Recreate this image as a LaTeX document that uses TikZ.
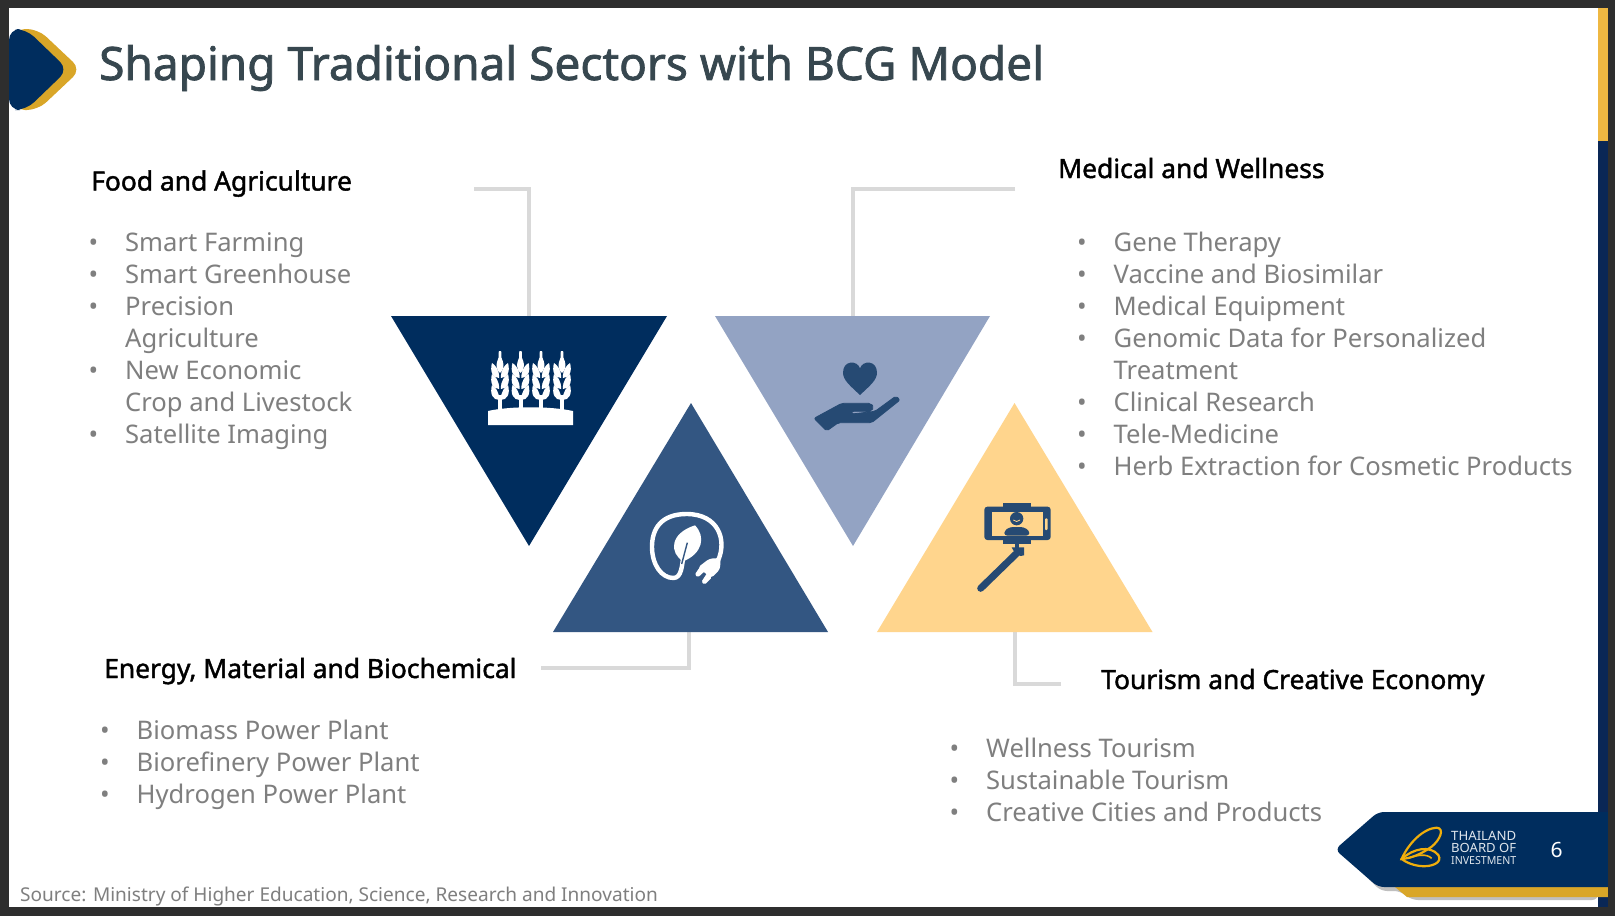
\documentclass[tikz,border=0pt]{standalone}
\usepackage{fontspec}
\setmainfont{Noto Sans}[AutoFakeBold=1.6]
\definecolor{frame}{HTML}{2E2E2E}
\definecolor{navy}{HTML}{002D5E}
\definecolor{barnavy}{HTML}{0A2756}
\definecolor{bargold}{HTML}{EFB842}
\definecolor{gold}{HTML}{D9A628}
\definecolor{triB}{HTML}{93A3C3}
\definecolor{triC}{HTML}{335682}
\definecolor{triD}{HTML}{FFD58D}
\definecolor{iconblue}{HTML}{264A73}
\definecolor{titlec}{HTML}{37474F}
\definecolor{bodyc}{HTML}{7F7F7F}
\definecolor{linkc}{HTML}{D9D9D9}
\definecolor{logogold}{HTML}{F0AE0B}
\tikzset{
  x=1pt,y=-1pt,
  head/.style={anchor=base west,inner sep=0,font=\fontsize{26.4}{30}\selectfont\bfseries,text=black},
  item/.style={anchor=base west,inner sep=0,font=\fontsize{25.6}{32}\selectfont,text=bodyc},
  link/.style={draw=linkc,line width=4pt},
  boiline/.style={inner sep=0,anchor=west,text=white!88!navy},
}
\newcommand{\bul}{\makebox[36.5pt][l]{•}}
\begin{document}
\begin{tikzpicture}
\useasboundingbox (0,0) rectangle (1615,916);
\fill[frame] (0,0) rectangle (1615,916);
\fill[white] (9,8) rectangle (1598,907);
\fill[bargold] (1598,8) rectangle (1608,141);
\fill[barnavy] (1598,141) rectangle (1608,907);
% title badge
\fill[gold,rounded corners=11pt] (14,29) -- (38,29) -- (81,69.5) -- (38,110) -- (14,110) -- cycle;
\fill[navy,rounded corners=11pt] (9,29) -- (26,29) -- (68,69.5) -- (26,110) -- (9,110) -- cycle;
\node[anchor=base west,inner sep=0,text=titlec,font=\fontsize{46}{50}\selectfont\bfseries] (title) at (99,80) {Shaping Traditional Sectors with BCG Model};
% anchors
\coordinate (a1) at (474,188.5); \coordinate (a1k) at (529,188.5); \coordinate (a1e) at (529,316);
\coordinate (a2) at (1015,188.5); \coordinate (a2k) at (853,188.5); \coordinate (a2e) at (853,316);
\coordinate (a3) at (541,667.5); \coordinate (a3k) at (689,667.5); \coordinate (a3e) at (689,631);
\coordinate (a4) at (1061,683.5); \coordinate (a4k) at (1014.5,683.5); \coordinate (a4e) at (1014.5,631);
\draw[link] (a1) -- (a1k) -- (a1e);
\draw[link] (a2) -- (a2k) -- (a2e);
\draw[link] (a3) -- (a3k) -- (a3e);
\draw[link] (a4) -- (a4k) -- (a4e);
% triangles
\fill[navy] (391,316) -- (667,316) -- (529,546) -- cycle;
\fill[triB] (715,316) -- (990,316) -- (853,546) -- cycle;
\fill[triC] (553,632) -- (828,632) -- (691,403) -- cycle;
\fill[triD] (877,632) -- (1152.5,632) -- (1014.5,403) -- cycle;
% wheat icon
\fill[white] (488,425) -- (488,411) .. controls (510,406) and (550,406) .. (573,411) -- (573,425) -- cycle;
\foreach \sx in {500,520.5,541,562}{
  \begin{scope}[shift={(\sx,0)}]
    \fill[white] (-1.2,351) -- (1.2,351) -- (1.8,366) -- (-1.8,366) -- cycle;
    \fill[white] (-2,395) rectangle (2,410);
    \fill[white] (0,356) .. controls (5,362) and (4,371) .. (0,373) .. controls (-4,371) and (-5,362) .. (0,356) -- cycle;
    \foreach \gy in {370,381,392}{
      \fill[white] (0.8,\gy+8) .. controls (0.8,\gy-1) and (5,\gy-5) .. (8,\gy-7) .. controls (10.5,\gy+2) and (7,\gy+8) .. (0.8,\gy+8) -- cycle;
      \fill[white] (-0.8,\gy+8) .. controls (-0.8,\gy-1) and (-5,\gy-5) .. (-8,\gy-7) .. controls (-10.5,\gy+2) and (-7,\gy+8) .. (-0.8,\gy+8) -- cycle;
    }
  \end{scope}
}
% plug-leaf icon (zoom units)
\begin{scope}[shift={(630,490)},x=0.3333pt,y=-0.3333pt]
  \draw[white,line width=4.4pt,line cap=round]
    (264,212) .. controls (292,150) and (265,72) .. (170,72)
    .. controls (95,72) and (66,115) .. (66,170)
    .. controls (66,225) and (95,264) .. (130,264)
    .. controls (155,264) and (156,225) .. (160,200);
  \fill[white] (195,106) .. controls (228,140) and (218,190) .. (160,214)
     .. controls (118,190) and (118,130) .. (195,106) -- cycle;
  \draw[triC,line width=1.4pt] (172,158) -- (155,222);
  \fill[white,rounded corners=3pt] (204,232) -- (238,206) -- (272,204) -- (270,238) -- (244,264) -- cycle;
  \fill[white,rounded corners=1.5pt] (212,228) -- (194,254) -- (204,262) -- (226,242) -- cycle;
  \fill[white,rounded corners=1.5pt] (232,248) -- (214,276) -- (224,284) -- (246,262) -- cycle;
\end{scope}
% hand icon
\begin{scope}[shift={(800,350)},x=0.3333pt,y=-0.3333pt]
  \fill[iconblue] (180,135) .. controls (150,107) and (129,90) .. (129,68)
     .. controls (129,30) and (172,30) .. (180,55)
     .. controls (188,30) and (231,30) .. (231,68)
     .. controls (231,90) and (210,107) .. (180,135) -- cycle;
  \fill[iconblue,draw=iconblue,line width=0.8pt,rounded corners=2pt] (42,205) -- (125,160) -- (212,160) -- (222,172) -- (212,184) -- (155,184) -- (155,192) -- (225,184) -- (288,138) -- (300,150) -- (215,218) -- (115,218) -- (80,243) -- cycle;
\end{scope}
% selfie icon
\begin{scope}[shift={(960,490)},x=0.3333pt,y=-0.3333pt]
  \fill[iconblue] (128,38) rectangle (212,52);
  \fill[iconblue] (128,148) rectangle (212,163);
  \fill[iconblue,rounded corners=3pt] (73,50) rectangle (272,150);
  \fill[triD] (95,65) rectangle (248,137);
  \fill[triD,rounded corners=1pt] (255,85) rectangle (263,120);
  \fill[iconblue] (170,86) circle[radius=20];
  \fill[iconblue,rounded corners=3pt] (133,137) -- (133,122) -- (150,111) -- (190,111) -- (208,122) -- (208,137) -- cycle;
  \draw[triD,line width=0.8pt] (160,90) .. controls (165,96) and (175,96) .. (180,90);
  \draw[iconblue,line width=7pt,line cap=round] (62,295) -- (172,188);
  \fill[iconblue] (155,172) -- (192,172) -- (192,196) -- (182,198) -- (165,190) -- cycle;
  \fill[iconblue] (165,163) rectangle (178,175);
\end{scope}
% footer tab
\fill[black!25,rounded corners=6pt] (1381,816) -- (1342,853) -- (1381,891) -- (1400,891) -- (1412,900) -- (1598,900) -- (1598,816) -- cycle;
\fill[gold] (1395,887) -- (1407,897) -- (1608,897) -- (1608,887) -- cycle;
\fill[navy,rounded corners=6pt] (1378,812) -- (1335,849.5) -- (1378,887) -- (1620,887) -- (1620,812) -- cycle;
\fill[frame] (1608,800) rectangle (1615,916);
% butterfly logo
\begin{scope}[shift={(1320,790)},x=0.3333pt,y=-0.3333pt]
  \draw[logogold,line width=2.2pt]
    (245,207) .. controls (265,160) and (310,115) .. (350,113)
    .. controls (375,115) and (360,150) .. (335,170)
    .. controls (300,195) and (270,205) .. (245,207) -- cycle;
  \draw[logogold,line width=2.2pt]
    (245,207) .. controls (280,175) and (330,165) .. (355,195)
    .. controls (370,220) and (330,232) .. (300,228)
    .. controls (275,225) and (255,215) .. (245,207) -- cycle;
  \draw[logogold,line width=1.6pt] (265,205) .. controls (290,195) and (320,190) .. (335,205);
\end{scope}
\node[boiline] (boi1) at (1451,835.5) {\resizebox{65pt}{9.2pt}{THAILAND}};
\node[boiline] (boi2) at (1451,848) {\resizebox{65pt}{9.2pt}{BOARD OF}};
\node[boiline] (boi3) at (1451,860.5) {\resizebox{65pt}{8pt}{INVESTMENT}};
\node[inner sep=0,text=white,font=\fontsize{21}{24}\selectfont] (page) at (1556.5,850) {6};
% source
\node[anchor=base west,inner sep=0,text=bodyc,font=\fontsize{19.05}{22}\selectfont] (src) at (20,901) {Source: Ministry of Higher Education, Science, Research and Innovation};
% Food
\node[head] (h1) at (91,190.5) {Food and Agriculture};
\node[item] (f1) at (88.5,251) {\bul Smart Farming};
\node[item] (f2) at (88.5,283) {\bul Smart Greenhouse};
\node[item] (f3) at (88.5,315) {\bul Precision};
\node[item] (f4) at (125,347) {Agriculture};
\node[item] (f5) at (88.5,379) {\bul New Economic};
\node[item] (f6) at (125,411) {Crop and Livestock};
\node[item] (f7) at (88.5,443) {\bul Satellite Imaging};
% Medical
\node[head] (h2) at (1058,178) {Medical and Wellness};
\node[item] (m1) at (1077,251) {\bul Gene Therapy};
\node[item] (m2) at (1077,283) {\bul Vaccine and Biosimilar};
\node[item] (m3) at (1077,315) {\bul Medical Equipment};
\node[item] (m4) at (1077,347) {\bul Genomic Data for Personalized};
\node[item] (m5) at (1113.5,379) {Treatment};
\node[item] (m6) at (1077,411) {\bul Clinical Research};
\node[item] (m7) at (1077,443) {\bul Tele-Medicine};
\node[item] (m8) at (1077,475) {\bul Herb Extraction for Cosmetic Products};
% Energy
\node[head] (h3) at (104,678) {Energy, Material and Biochemical};
\node[item] (e1) at (100,739.5) {\bul Biomass Power Plant};
\node[item] (e2) at (100,771.5) {\bul Biorefinery Power Plant};
\node[item] (e3) at (100,803.5) {\bul Hydrogen Power Plant};
% Tourism
\node[head] (h4) at (1101,689) {Tourism and Creative Economy};
\node[item] (t1) at (949.5,757) {\bul Wellness Tourism};
\node[item] (t2) at (949.5,789) {\bul Sustainable Tourism};
\node[item] (t3) at (949.5,821) {\bul Creative Cities and Products};
\end{tikzpicture}
\end{document}
